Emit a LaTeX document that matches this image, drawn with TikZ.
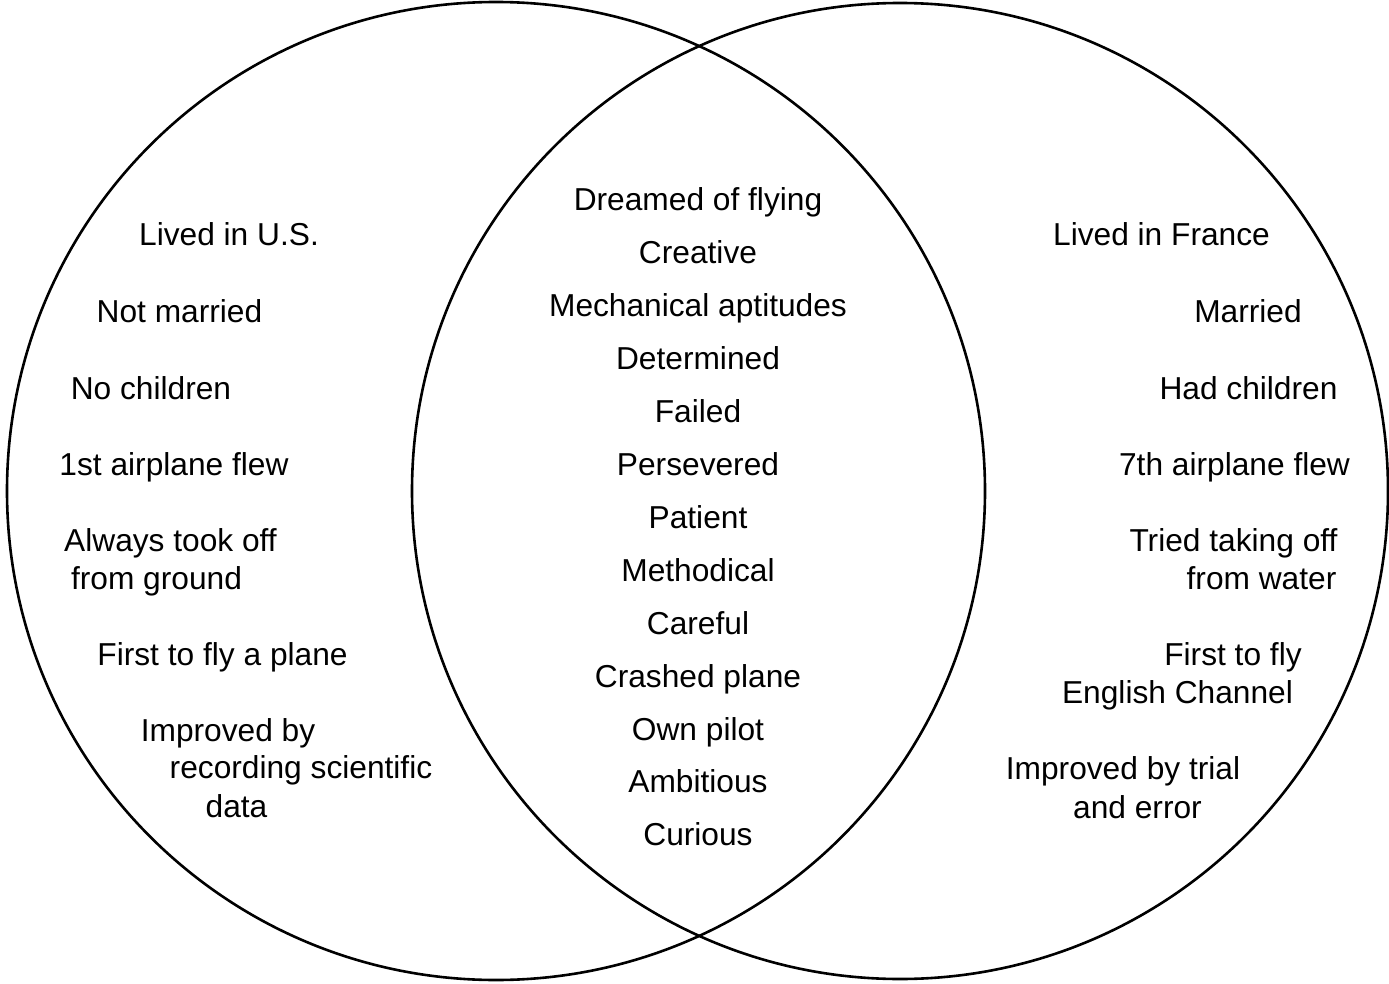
\documentclass[tikz,border=0pt]{standalone}
\usepackage{fontspec}
\setmainfont{Liberation Sans}
\begin{document}
\begin{tikzpicture}[x=1pt,y=-1pt,
  ring/.style={circle,draw=black,line width=2.6pt,inner sep=0pt,minimum size=#1},
  lbl/.style={anchor=base,inner sep=0pt,font=\fontsize{31.7}{38}\selectfont}]
\useasboundingbox (0,0) rectangle (1389,984);
% the two overlapping sets
\node[ring=978pt] (us) at (496,491) {};
\node[ring=976pt] (fr) at (900,491) {};
% left set only
\node[lbl] (l1) at (229,246) {Lived in U.S.};
\node[lbl] (l2) at (179.5,322) {Not married};
\node[lbl] (l3) at (151,399) {No children};
\node[lbl] (l4) at (174,475) {1st airplane flew};
\node[lbl] (l5a) at (170.5,551) {Always took off};
\node[lbl] (l5b) at (156.5,589) {from ground};
\node[lbl] (l6) at (222.5,665) {First to fly a plane};
\node[lbl] (l7a) at (228,741) {Improved by};
\node[lbl] (l7b) at (301,778) {recording scientific};
\node[lbl] (l7c) at (236.5,817) {data};
% shared traits
\foreach \t [count=\i from 0] in {Dreamed of flying,Creative,Mechanical aptitudes,Determined,Failed,Persevered,Patient,Methodical,Careful,Crashed plane,Own pilot,Ambitious,Curious}
  \node[lbl] (c\i) at (698,211+52.9*\i) {\t};
% right set only
\node[lbl] (r1) at (1161.5,246) {Lived in France};
\node[lbl] (r2) at (1248,322) {Married};
\node[lbl] (r3) at (1248.5,399) {Had children};
\node[lbl] (r4) at (1234.5,475) {7th airplane flew};
\node[lbl] (r5a) at (1233.5,551) {Tried taking off};
\node[lbl] (r5b) at (1261.5,589) {from water};
\node[lbl] (r6a) at (1233,665) {First to fly};
\node[lbl] (r6b) at (1177.5,703) {English Channel};
\node[lbl] (r7a) at (1123,779) {Improved by trial};
\node[lbl] (r7b) at (1137.5,818) {and error};
\end{tikzpicture}
\end{document}
